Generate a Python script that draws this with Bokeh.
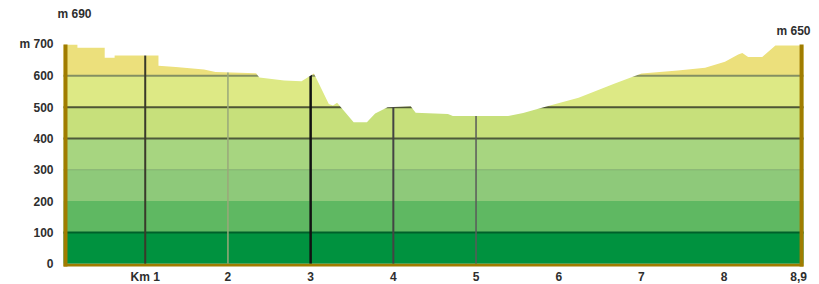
from bokeh.plotting import figure
from bokeh.models import Range1d, Label
from bokeh.embed import file_html
from bokeh.resources import INLINE

# Elevation profile (km, m)
km = [0.0, 0.18, 0.18, 0.51, 0.51, 0.63, 0.63, 1.16, 1.16, 1.37, 1.71, 1.85, 2.34, 2.38,
      2.68, 2.89, 3.04, 3.22, 3.27, 3.32, 3.52, 3.68, 3.78, 3.93, 4.21, 4.27, 4.66, 4.72,
      5.39, 5.57, 5.85, 6.24, 6.67, 7.0, 7.44, 7.77, 8.01, 8.17, 8.22, 8.29, 8.46, 8.62, 8.96]
elev = [700, 700, 690, 690, 658, 658, 665, 665, 632, 628, 620, 612, 608, 595,
        585, 583, 607, 510, 505, 514, 452, 452, 480, 500, 503, 482, 478, 472,
        472, 481, 502, 530, 575, 607, 617, 626, 645, 668, 673, 660, 660, 697, 697]

band_bottom = [0, 100, 200, 300, 400, 500, 600]
band_top = [100, 200, 300, 400, 500, 600, 700]
band_color = ["#00923f", "#5fb862", "#8ec97a", "#a7d580", "#c7e07b", "#dde985", "#ece07c"]

hgrid_y = [100, 300, 400, 500, 600]
hgrid_color = ["#00602a", "#7fae6c", "#4e5a3a", "#4e5535", "#848f62"]
hgrid_width = [2, 1, 2, 2, 2]

vgrid_x = [1, 2, 3, 4, 5]
vgrid_color = ["#3a3a2a", "#9aa87a", "#111111", "#444444", "#5a5a5a"]
vgrid_width = [2, 1.5, 2.5, 2, 1.5]

y_ticks = [700, 600, 500, 400, 300, 200, 100, 0]
y_labels = ["m 700", "600", "500", "400", "300", "200", "100", "0"]
x_ticks = [1, 2, 3, 4, 5, 6, 7, 8, 8.9]
x_labels = ["Km 1", "2", "3", "4", "5", "6", "7", "8", "8,9"]

start_label = "m 690"
end_label = "m 650"

X0, X1 = 0.012, 8.96
Y0, Y1 = -9, 700

W, H = 819, 284
p = figure(width=W, height=H, output_backend="svg", toolbar_location=None,
           x_range=Range1d(-0.750, 9.153), y_range=Range1d(-66.4, 840.5),
           x_axis_type=None, y_axis_type=None,
           min_border_left=0, min_border_right=0, min_border_top=0, min_border_bottom=0)
p.outline_line_color = None
p.grid.visible = False
p.background_fill_color = "white"
p.border_fill_color = "white"

# bands
p.quad(left=[X0] * len(band_bottom), right=[X1] * len(band_bottom),
       bottom=band_bottom, top=band_top, fill_color=band_color, line_color=None)

# grid lines
p.segment(x0=[X0] * len(hgrid_y), x1=[X1] * len(hgrid_y), y0=hgrid_y, y1=hgrid_y,
          line_color=hgrid_color, line_width=hgrid_width)
p.segment(x0=vgrid_x, x1=vgrid_x, y0=[0] * len(vgrid_x), y1=[Y1] * len(vgrid_x),
          line_color=vgrid_color, line_width=vgrid_width)

# white mask above profile
mask_x = km + [X1, X1, 0.0]
mask_y = elev + [Y1 + 50, Y1 + 50, Y1 + 50]
p.patch(mask_x, mask_y, fill_color="white", line_color=None)

# brown frame bars
brown = "#a07c00"
p.quad(left=[X0, 8.912, X0], right=[0.06, X1, X1], bottom=[Y0, Y0, Y0], top=[Y1, Y1, 0],
       fill_color=brown, line_color=None)

font = "Liberation Sans"
fs = "12px"
tc = "#2e2e2e"
for yv, t in zip(y_ticks, y_labels):
    p.add_layout(Label(x=53, y=yv, x_units="screen", y_units="data", text=t,
                       text_align="right", text_baseline="middle", text_font=font,
                       text_font_size=fs, text_font_style="bold", text_color=tc))
for xv, t in zip(x_ticks, x_labels):
    p.add_layout(Label(x=xv, y=8, x_units="data", y_units="screen", text=t,
                       text_align="center", text_baseline="middle", text_font=font,
                       text_font_size=fs, text_font_style="bold", text_color=tc))

p.add_layout(Label(x=57, y=H - 13, x_units="screen", y_units="screen", text=start_label,
                   text_align="left", text_baseline="middle", text_font=font,
                   text_font_size=fs, text_font_style="bold", text_color=tc))
p.add_layout(Label(x=810, y=H - 30, x_units="screen", y_units="screen", text=end_label,
                   text_align="right", text_baseline="middle", text_font=font,
                   text_font_size=fs, text_font_style="bold", text_color=tc))

open("out.html", "w").write(file_html(p, INLINE))
